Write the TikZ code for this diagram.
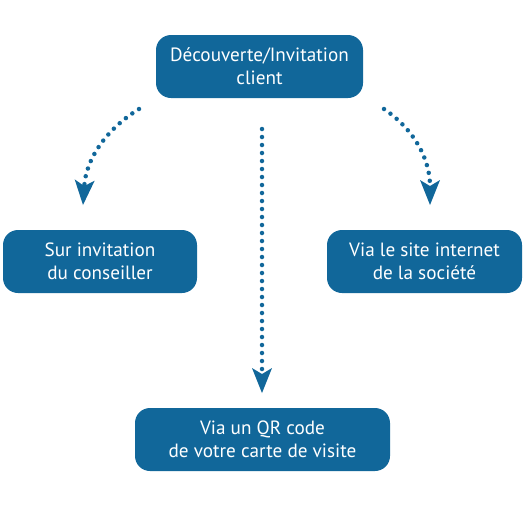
\documentclass[tikz,border=0pt]{standalone}
\usepackage{fontspec}
\setmainfont{PT Sans}
\usepackage{tikz}
\usetikzlibrary{arrows.meta}

\definecolor{boxblue}{RGB}{17,103,154}

\begin{document}
\begin{tikzpicture}[x=1pt,y=-1pt,
    stepbox/.style={fill=boxblue,rounded corners=15pt,text=white,
      align=center,font=\fontsize{19.2}{23}\selectfont,inner sep=0pt},
    dotted link/.style={boxblue,line width=4.5pt,line cap=round,
      dash pattern=on 0pt off 8pt,
      -{Stealth[length=25pt,width=20pt,inset=6pt,line width=0pt]}}]
  \useasboundingbox (0,0) rectangle (523,523);
  % the four boxes
  \node[stepbox,minimum width=207pt,minimum height=63pt] (start) at (259.5,66.5)
    {Découverte/Invitation\\client};
  \node[stepbox,minimum width=194pt,minimum height=63pt] (advisor) at (100,261.5)
    {Sur invitation\\du conseiller};
  \node[stepbox,minimum width=195pt,minimum height=63pt] (website) at (424.5,261.5)
    {Via le site internet\\de la société};
  \node[stepbox,minimum width=255pt,minimum height=63pt] (qrcode) at (262.5,439.5)
    {Via un QR code\\de votre carte de visite};
  % free ends of the dotted arrows
  \coordinate (l0) at (139,109);
  \coordinate (l1) at (83,205);
  \coordinate (m0) at (262,129);
  \coordinate (m1) at (262,393);
  \coordinate (r0) at (384,109);
  \coordinate (r1) at (430,205);
  % dotted arrows
  \draw[dotted link] (l0) .. controls (105,130) and (86,160) .. (l1);
  \draw[dotted link] (m0) -- (m1);
  \draw[dotted link] (r0) .. controls (415,130) and (430,160) .. (r1);
\end{tikzpicture}
\end{document}
